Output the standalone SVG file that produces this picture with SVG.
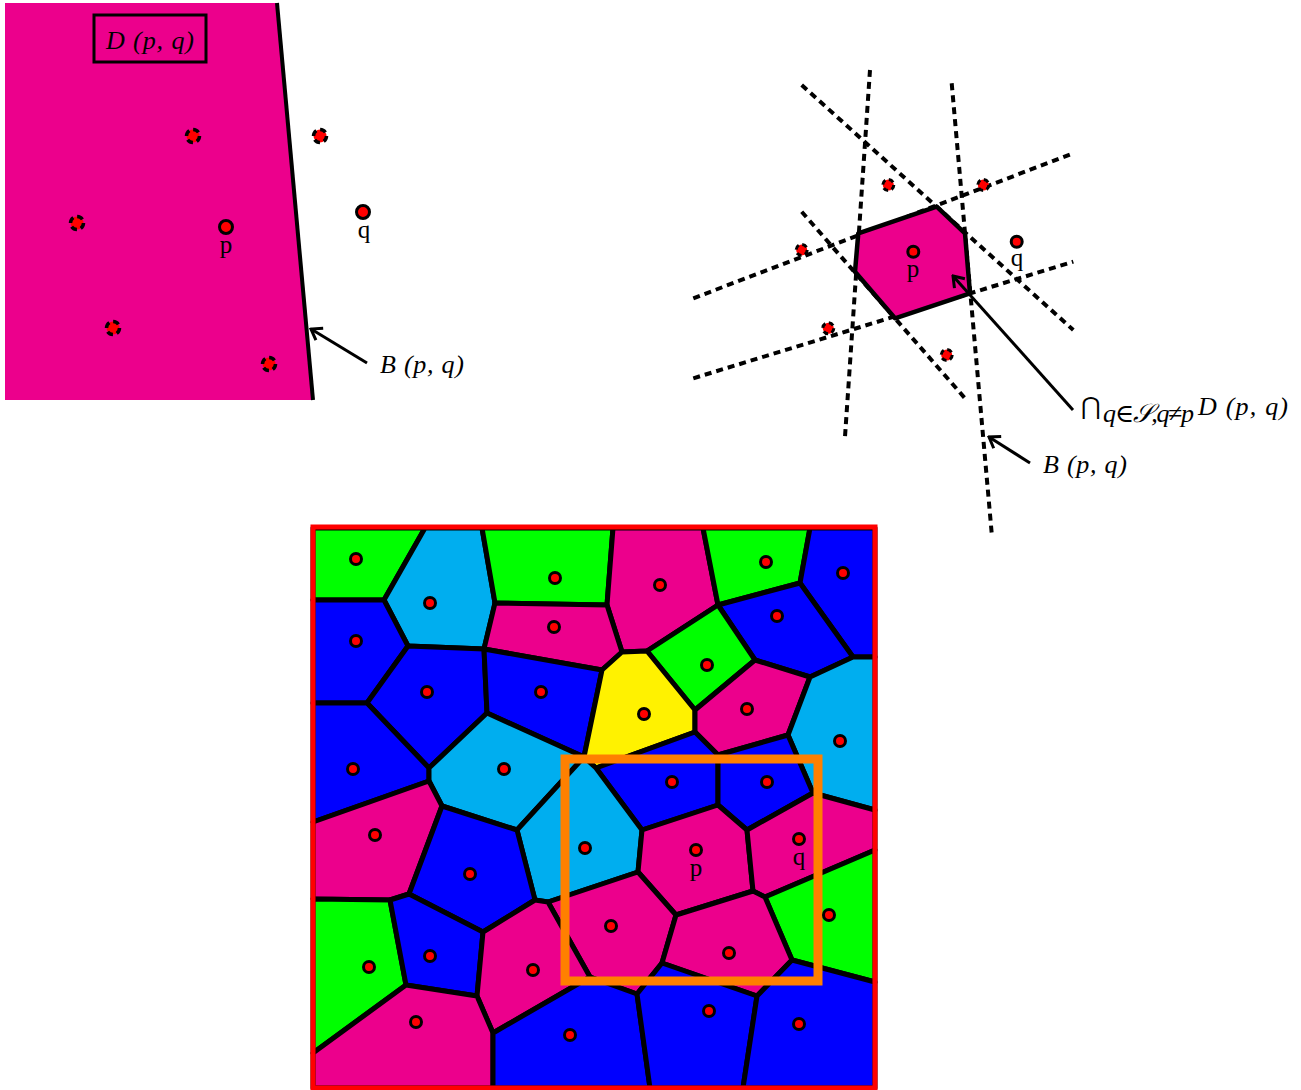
<svg xmlns="http://www.w3.org/2000/svg" width="1301" height="1090" viewBox="0 0 1301 1090">
<style>
.cell{stroke:#000;stroke-width:5;stroke-linejoin:round}
.pk{fill:#EC008C}.gr{fill:#00FF00}.bl{fill:#0000FF}.cy{fill:#00AEEF}.ye{fill:#FFF200}
.site{fill:#FF0000;stroke:#000;stroke-width:3}
.dsite{fill:#FF0000;stroke:#000;stroke-width:3.5;stroke-dasharray:6 4}
.dsite2{fill:#FF0000;stroke:#000;stroke-width:3;stroke-dasharray:5 3.6}
.dash{fill:none;stroke:#000;stroke-width:4;stroke-dasharray:7 5}
.lbl{font-family:"Liberation Serif","DejaVu Serif",serif;font-size:25px;fill:#000}
.it{font-family:"Liberation Serif","DejaVu Serif",serif;font-style:italic;font-size:26px;fill:#000}
.arrow{fill:none;stroke:#000;stroke-width:3;marker-end:url(#arr)}
</style>
<defs>
<marker id="arr" markerUnits="userSpaceOnUse" markerWidth="14" markerHeight="20" viewBox="-12 -10 14 20" refX="0" refY="0" orient="auto">
<path d="M-10,-7 L0,0 L-10,7" fill="none" stroke="#000" stroke-width="3"/>
</marker>
</defs>
<rect width="1301" height="1090" fill="#fff"/>

<!-- Top-left panel -->
<g id="halfplane">
<polygon points="5,3 277,3 313,400 5,400" class="pk"/>
<line x1="277" y1="3" x2="313" y2="400" stroke="#000" stroke-width="4"/>
</g>
<g id="label-Dpq">
<rect x="94" y="15" width="112" height="47" fill="none" stroke="#000" stroke-width="3"/>
<text x="150" y="49" class="it" text-anchor="middle" textLength="88">D (p, q)</text>
</g>
<g id="tl-sites">
<circle cx="193" cy="136" r="6.5" class="dsite"/>
<circle cx="320" cy="136" r="6.5" class="dsite"/>
<circle cx="77" cy="223" r="6.5" class="dsite"/>
<circle cx="113" cy="328" r="6.5" class="dsite"/>
<circle cx="269" cy="364" r="6.5" class="dsite"/>
<circle cx="226" cy="227" r="6.5" class="site"/>
<circle cx="363" cy="212" r="6.5" class="site"/>
<text x="226" y="253" class="lbl" text-anchor="middle">p</text>
<text x="364" y="238" class="lbl" text-anchor="middle">q</text>
</g>
<g id="tl-connectors">
<line x1="367" y1="363" x2="311" y2="329" class="arrow"/>
</g>
<text x="380" y="373" class="it" textLength="84">B (p, q)</text>

<!-- Top-right panel -->
<g id="bisectors">
<line x1="801.7" y1="85" x2="1073.3" y2="330" class="dash"/>
<line x1="870" y1="70" x2="845" y2="436.7" class="dash"/>
<line x1="951.7" y1="83.3" x2="991.7" y2="533.3" class="dash"/>
<line x1="693.3" y1="298.3" x2="1073.3" y2="153.3" class="dash"/>
<line x1="693.3" y1="378.3" x2="1073.3" y2="261.7" class="dash"/>
<line x1="801.7" y1="211.7" x2="965" y2="398.3" class="dash"/>
</g>
<g id="cell-p">
<polygon points="858.3,233.3 936.7,206.7 965,233.3 970,293.3 895,318.3 855,271.7" fill="#EC008C" stroke="#000" stroke-width="4.5" stroke-linejoin="round"/>
</g>
<g id="tr-sites">
<circle cx="888.3" cy="185" r="5.5" class="dsite2"/>
<circle cx="983.3" cy="185" r="5.5" class="dsite2"/>
<circle cx="801.7" cy="250" r="5.5" class="dsite2"/>
<circle cx="828.3" cy="328.3" r="5.5" class="dsite2"/>
<circle cx="946.7" cy="355" r="5.5" class="dsite2"/>
<circle cx="913.3" cy="251.7" r="5.5" class="site"/>
<circle cx="1016.7" cy="241.7" r="5.5" class="site"/>
<text x="913" y="277" class="lbl" text-anchor="middle">p</text>
<text x="1017" y="266" class="lbl" text-anchor="middle">q</text>
</g>
<g id="tr-connectors">
<line x1="1073" y1="410" x2="953" y2="276" class="arrow"/>
<line x1="1030" y1="463" x2="989" y2="437" class="arrow"/>
</g>
<text x="1081" y="414" font-family="DejaVu Serif,serif" font-size="24">⋂</text>
<text x="1103" y="422" class="it" font-size="17" textLength="91">q∈𝒮,q≠p</text>
<text x="1198" y="415" class="it" textLength="90">D (p, q)</text>
<text x="1043" y="473" class="it" textLength="84">B (p, q)</text>

<!-- Voronoi diagram -->
<g id="voronoi">
<polygon class="cell gr" points="313,528 425,528 384,600 313,600"/>
<polygon class="cell cy" points="425,528 482,528 495,603 484,649 408,646 384,600"/>
<polygon class="cell gr" points="482,528 613,528 607,605 495,603"/>
<polygon class="cell pk" points="613,528 703,528 718,605 647,651 622,652 607,605"/>
<polygon class="cell gr" points="703,528 810,528 800,583 718,605"/>
<polygon class="cell bl" points="810,528 875,528 875,657 853,657 800,583"/>
<polygon class="cell bl" points="313,600 384,600 408,646 367,703 313,703"/>
<polygon class="cell pk" points="495,603 607,605 622,652 602,670 484,649"/>
<polygon class="cell bl" points="718,605 800,583 853,657 810,677 755,660"/>
<polygon class="cell bl" points="408,646 484,649 487,713 429,768 367,703"/>
<polygon class="cell bl" points="484,649 602,670 584,757 487,713"/>
<polygon class="cell gr" points="647,651 718,605 755,660 695,710"/>
<polygon class="cell ye" points="602,670 622,652 647,651 695,710 695,732 596,768 584,757"/>
<polygon class="cell pk" points="755,660 810,677 788,735 718,755 695,732 695,710"/>
<polygon class="cell cy" points="853,657 875,657 875,810 813,793 788,735 810,677"/>
<polygon class="cell bl" points="313,703 367,703 429,768 429,781 313,822"/>
<polygon class="cell cy" points="429,768 487,713 584,757 517,830 442,806 429,781"/>
<polygon class="cell bl" points="596,768 695,732 718,755 718,805 642,830"/>
<polygon class="cell bl" points="718,755 788,735 813,793 747,830 718,805"/>
<polygon class="cell pk" points="313,822 429,781 442,806 409,894 390,900 313,899"/>
<polygon class="cell cy" points="517,830 584,757 596,768 642,830 638,872 548,902 535,900"/>
<polygon class="cell pk" points="642,830 718,805 747,830 753,891 676,915 638,872"/>
<polygon class="cell pk" points="747,830 813,793 875,810 875,850 765,897 753,891"/>
<polygon class="cell bl" points="442,806 517,830 535,900 483,932 409,894"/>
<polygon class="cell gr" points="765,897 875,850 875,982 792,960"/>
<polygon class="cell pk" points="548,902 638,872 676,915 662,963 637,994 590,977"/>
<polygon class="cell pk" points="676,915 753,891 765,897 792,960 757,996 662,963"/>
<polygon class="cell gr" points="313,899 390,900 406,985 313,1053"/>
<polygon class="cell bl" points="390,900 409,894 483,932 477,996 406,985"/>
<polygon class="cell pk" points="483,932 535,900 548,902 590,977 493,1033 477,996"/>
<polygon class="cell pk" points="313,1053 406,985 477,996 493,1033 493,1088 313,1088"/>
<polygon class="cell bl" points="493,1033 590,977 637,994 650,1088 493,1088"/>
<polygon class="cell bl" points="637,994 662,963 757,996 743,1088 650,1088"/>
<polygon class="cell bl" points="757,996 792,960 875,982 875,1088 743,1088"/>
</g>
<rect id="frame" x="313" y="527" width="562" height="561" fill="none" stroke="#FF0000" stroke-width="5"/>
<rect id="zoom-box" x="565" y="759" width="253" height="222" fill="none" stroke="#FF8000" stroke-width="9"/>
<g id="sites">
<circle cx="356" cy="559" r="5.5" class="site"/>
<circle cx="430" cy="603" r="5.5" class="site"/>
<circle cx="555" cy="578" r="5.5" class="site"/>
<circle cx="660" cy="585" r="5.5" class="site"/>
<circle cx="766" cy="562" r="5.5" class="site"/>
<circle cx="843" cy="573" r="5.5" class="site"/>
<circle cx="356" cy="641" r="5.5" class="site"/>
<circle cx="554" cy="627" r="5.5" class="site"/>
<circle cx="777" cy="616" r="5.5" class="site"/>
<circle cx="427" cy="692" r="5.5" class="site"/>
<circle cx="541" cy="692" r="5.5" class="site"/>
<circle cx="707" cy="665" r="5.5" class="site"/>
<circle cx="644" cy="714" r="5.5" class="site"/>
<circle cx="747" cy="709" r="5.5" class="site"/>
<circle cx="353" cy="769" r="5.5" class="site"/>
<circle cx="504" cy="769" r="5.5" class="site"/>
<circle cx="840" cy="741" r="5.5" class="site"/>
<circle cx="672" cy="782" r="5.5" class="site"/>
<circle cx="767" cy="782" r="5.5" class="site"/>
<circle cx="375" cy="835" r="5.5" class="site"/>
<circle cx="585" cy="848" r="5.5" class="site"/>
<circle cx="696" cy="850" r="5.5" class="site"/>
<circle cx="799" cy="839" r="5.5" class="site"/>
<circle cx="470" cy="874" r="5.5" class="site"/>
<circle cx="829" cy="915" r="5.5" class="site"/>
<circle cx="611" cy="926" r="5.5" class="site"/>
<circle cx="729" cy="953" r="5.5" class="site"/>
<circle cx="369" cy="967" r="5.5" class="site"/>
<circle cx="430" cy="956" r="5.5" class="site"/>
<circle cx="533" cy="970" r="5.5" class="site"/>
<circle cx="416" cy="1022" r="5.5" class="site"/>
<circle cx="570" cy="1035" r="5.5" class="site"/>
<circle cx="709" cy="1011" r="5.5" class="site"/>
<circle cx="799" cy="1024" r="5.5" class="site"/>
</g>
<text x="696" y="876" class="lbl" text-anchor="middle">p</text>
<text x="799" y="865" class="lbl" text-anchor="middle">q</text>
</svg>
